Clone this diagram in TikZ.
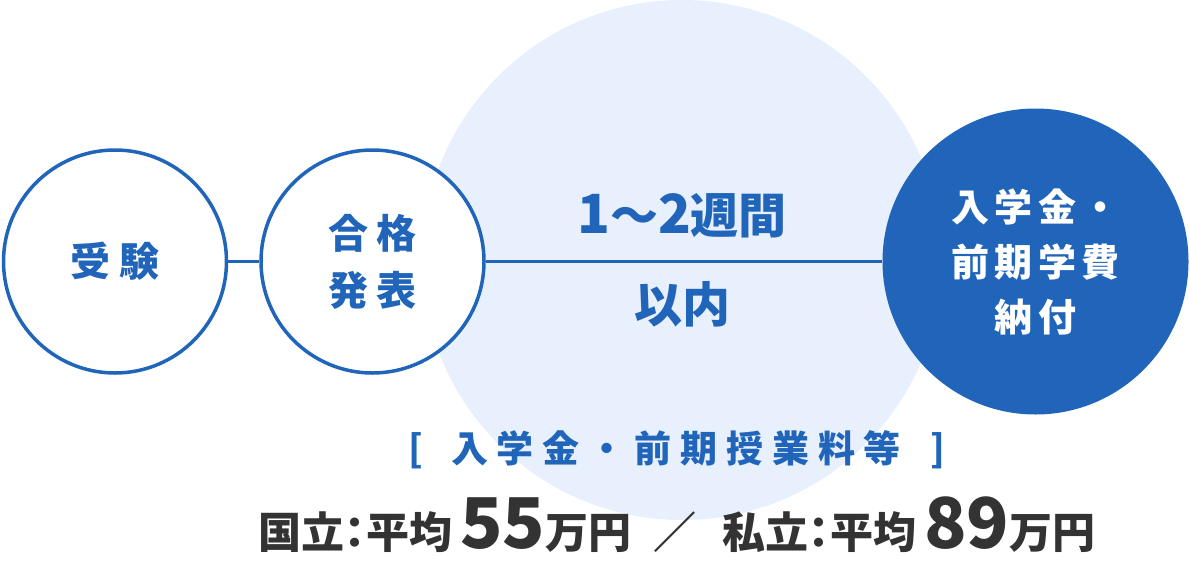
\documentclass[tikz,border=0pt]{standalone}
\usepackage{fontspec}
\usepackage{xcolor}
\usetikzlibrary{positioning}
\newfontfamily\jpfont{Noto Sans CJK JP}
\newfontfamily\jpwide{Noto Sans CJK JP}[LetterSpace=22]
\newfontfamily\jpfee{Noto Sans CJK JP}[LetterSpace=24]
\newfontfamily\jppay{Noto Sans CJK JP}[LetterSpace=14]
\newfontfamily\jpprop{Noto Sans CJK JP}[RawFeature=+palt]
\definecolor{mainblue}{RGB}{32,101,185}
\definecolor{lightblue}{RGB}{232,240,253}
\definecolor{darktext}{RGB}{51,51,51}
\newcommand{\bignum}[1]{{\fontsize{70pt}{70pt}\selectfont #1}}

\begin{document}
\begin{tikzpicture}[x=1pt,y=-1pt,
				stepcircle/.style={
					circle, draw=mainblue, line width=3.5pt, fill=white,
					minimum size=223pt, inner sep=0pt, align=center,
					text=mainblue, font=\jpwide\bfseries\fontsize{40pt}{57pt}\selectfont
				},
				paycircle/.style={
					circle, fill=mainblue, minimum size=306pt, inner sep=0pt,
					align=center, text=white,
					font=\jppay\bfseries\fontsize{38pt}{55pt}\selectfont
				},
				periodcircle/.style={circle, fill=lightblue, minimum size=520pt, inner sep=0pt},
				link/.style={draw=mainblue, line width=3pt},
				periodtext/.style={text=mainblue, inner sep=0pt, anchor=base,
					font=\jpfont\bfseries\fontsize{48pt}{48pt}\selectfont},
				feetext/.style={text=mainblue, inner sep=0pt, anchor=base,
					font=\jpfee\bfseries\fontsize{37pt}{37pt}\selectfont},
				costtext/.style={text=darktext, inner sep=0pt, anchor=base,
					font=\jpprop\bfseries\fontsize{43pt}{43pt}\selectfont}
				]
				\useasboundingbox (0,0) rectangle (1190,560);
				\node[periodcircle] (period) at (682,260) {};
				
				\node[stepcircle] (exam) at (115,261.5) {受験};
				\node[stepcircle] (pass) at (372.5,261.5) {合格\\発表};
				\node[paycircle] (pay) at (1035.5,261.5) {入学金・\\前期学費\\納付};
				
				\draw[link] (exam) -- (pass);
				\draw[link] (pass) -- (pay);
				
				\node[periodtext] (weeks) at (682,233) {{\fontsize{54pt}{54pt}\selectfont 1}～{\fontsize{54pt}{54pt}\selectfont 2}週間};
				\node[periodtext] (within) at (682,322) {以内};
				
				\node[feetext] (fees) at (677,462) {[\hspace{28pt}入学金・前期授業料等\hspace{30pt}]};
				\node[costtext] (costs) at (677,548)
				{国立：平均\hspace{8pt}\bignum{55}万円\hspace{22pt}／\hspace{26pt}私立：平均\hspace{8pt}\bignum{89}万円};
			\end{tikzpicture}
\end{document}
